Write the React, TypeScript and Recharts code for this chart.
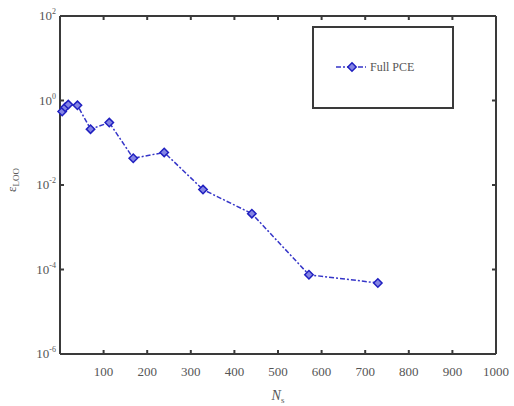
import { LineChart, Line, XAxis, YAxis } from 'recharts';

const sampleSizes = [5, 12, 19, 40, 70, 113, 168, 239, 328, 440, 571, 729];
const looError = [0.55, 0.69, 0.8, 0.77, 0.21, 0.3, 0.043, 0.059, 0.0078, 0.0021, 7.5e-5, 4.8e-5];
const xTicks = [100, 200, 300, 400, 500, 600, 700, 800, 900, 1000];
const yTicks = [1e-6, 1e-4, 1e-2, 1, 1e2];
const yExponents = ['-6', '-4', '-2', '0', '2'];
const seriesName = 'Full PCE';

const data = sampleSizes.map((n, i) => ({ n, err: looError[i] }));

const serif = '"Liberation Serif", "Times New Roman", serif';
const axisColor = '#3a3a3a';
const textColor = '#555';
const lineBlue = '#3535c8';

const Diamond = (props: any) => {
  const { cx, cy } = props;
  if (cx == null || cy == null) return null;
  const r = 4.2;
  return (
    <path
      d={`M${cx},${cy - r} L${cx + r},${cy} L${cx},${cy + r} L${cx - r},${cy} Z`}
      fill="#8585e4"
      stroke="#2020c0"
      strokeWidth={1.5}
    />
  );
};

const YTick = (props: any) => {
  const { x, y, payload } = props;
  const idx = yTicks.indexOf(payload.value);
  return (
    <text x={x - 4} y={y + 4} textAnchor="end" fontFamily={serif} fontSize={13} fill={textColor}>
      <tspan>10</tspan>
      <tspan dy={-6} fontSize={8}>{yExponents[idx]}</tspan>
    </text>
  );
};

const NoLabel = () => <g />;

const LegendBox = () => (
  <div
    style={{
      position: 'absolute',
      left: 312,
      top: 26,
      width: 138,
      height: 79,
      border: `2px solid ${axisColor}`,
      background: '#fff',
    }}
  >
    <svg width={138} height={79} style={{ position: 'absolute', left: 0, top: 0 }}>
      <line x1={22} y1={39} x2={52} y2={39} stroke={lineBlue} strokeWidth={1.5} strokeDasharray="5 2 2 2" />
      <Diamond cx={38} cy={39} />
      <text x={56} y={43} fontFamily={serif} fontSize={12} fill={textColor}>{seriesName}</text>
    </svg>
  </div>
);

export default function App() {
  return (
    <div style={{ position: 'absolute', left: 0, top: 0, width: 514, height: 406, background: '#fff' }}>
      <LineChart width={514} height={406} data={data} margin={{ top: 15, right: 17, bottom: 0, left: 0 }}>
        <XAxis
          xAxisId="top"
          orientation="top"
          dataKey="n"
          type="number"
          domain={[0, 1000]}
          ticks={xTicks}
          tick={<NoLabel />}
          tickSize={-4}
          height={1}
          stroke={axisColor}
          strokeWidth={2}
        />
        <YAxis
          yAxisId="right"
          orientation="right"
          scale="log"
          domain={[1e-6, 1e2]}
          ticks={yTicks}
          tick={<NoLabel />}
          tickSize={-4}
          width={1}
          stroke={axisColor}
          strokeWidth={2}
          allowDataOverflow
        />
        <XAxis
          dataKey="n"
          type="number"
          domain={[0, 1000]}
          ticks={xTicks}
          tickSize={-4}
          tickMargin={17}
          height={52}
          stroke={axisColor}
          strokeWidth={2}
          tick={{ fontFamily: serif, fontSize: 13, fill: textColor }}
          label={{
            content: (p: any) => {
              const vb = p.viewBox;
              return (
                <text x={vb.x + vb.width / 2} y={vb.y + 46} textAnchor="middle" fontFamily={serif} fontSize={14} fill={textColor}>
                  <tspan fontStyle="italic">N</tspan>
                  <tspan dy={3} fontSize={9}>s</tspan>
                </text>
              );
            },
          }}
        />
        <YAxis
          scale="log"
          domain={[1e-6, 1e2]}
          ticks={yTicks}
          tickSize={-4}
          tickMargin={4}
          width={60}
          stroke={axisColor}
          strokeWidth={2}
          tick={<YTick />}
          allowDataOverflow
          label={{
            content: (p: any) => {
              const vb = p.viewBox;
              const cy = vb.y + 164;
              return (
                <text x={16} y={cy} transform={`rotate(-90 16 ${cy})`} textAnchor="middle" fontFamily={serif} fontSize={13} fill={textColor}>
                  <tspan>ε</tspan>
                  <tspan dy={3} fontSize={9}>LOO</tspan>
                </text>
              );
            },
          }}
        />
        <Line
          dataKey="err"
          name={seriesName}
          stroke={lineBlue}
          strokeWidth={1.5}
          strokeDasharray="5 2 2 2"
          dot={<Diamond />}
          activeDot={false}
          isAnimationActive={false}
        />
      </LineChart>
      <LegendBox />
    </div>
  );
}
